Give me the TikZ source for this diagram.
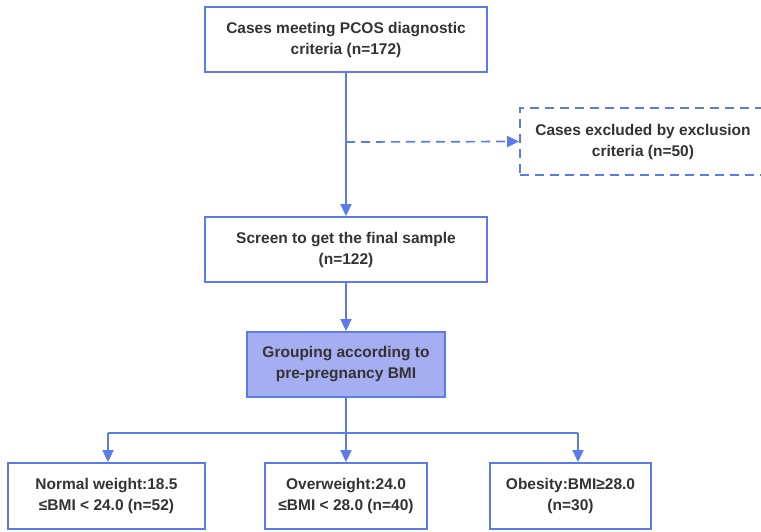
\documentclass[tikz,border=0pt]{standalone}
\usepackage{fontspec}
\setmainfont{Liberation Sans}
\usetikzlibrary{arrows.meta}
\definecolor{edge}{HTML}{5B7BEA}
\definecolor{grpfill}{HTML}{A6AEF2}
\definecolor{txt}{HTML}{333333}
\tikzset{
  box/.style={draw=edge, line width=1.8pt, fill=white, align=center, text=txt,
    font=\bfseries\fontsize{15.5}{21}\selectfont, inner sep=0pt},
  conn/.style={draw=edge, line width=1.7pt, -{Triangle[length=12pt,width=11pt]}},
  plain/.style={draw=edge, line width=1.7pt},
}
\begin{document}
\begin{tikzpicture}[x=1pt,y=-1pt]
\useasboundingbox (0,0) rectangle (761,531);
\node[box, minimum width=282pt, minimum height=65pt] (top) at (346,39.5) {Cases meeting PCOS diagnostic\\criteria (n=172)};
\node[box, dashed, dash pattern=on 9pt off 6pt, minimum width=246pt, minimum height=67pt] (excl) at (643,141.5) {Cases excluded by exclusion\\criteria (n=50)};
\node[box, minimum width=282pt, minimum height=65pt] (screen) at (346,249.5) {Screen to get the final sample\\(n=122)};
\node[box, fill=grpfill, minimum width=198pt, minimum height=65pt] (group) at (346,364.5) {Grouping according to\\pre-pregnancy BMI};
\node[box, minimum width=197pt, minimum height=66pt] (n1) at (106.5,496) {Normal weight:18.5\\≤BMI < 24.0 (n=52)};
\node[box, minimum width=162pt, minimum height=66pt] (n2) at (346,496) {Overweight:24.0\\≤BMI < 28.0 (n=40)};
\node[box, minimum width=161pt, minimum height=66pt] (n3) at (570.5,496) {Obesity:BMI≥28.0\\(n=30)};
\coordinate (tap) at (346,142);
\coordinate (split) at (346,433);
\coordinate (b1) at (108,433);
\coordinate (b3) at (578,433);
\draw[conn] (top.south) -- (screen.north);
\draw[conn, dashed, dash pattern=on 9pt off 6pt] (tap) -- (excl.west);
\draw[conn] (screen.south) -- (group.north);
\draw[plain] (group.south) -- (split);
\draw[plain] (b1) -- (b3);
\draw[conn] (b1) -- (b1 |- n1.north);
\draw[conn] (split) -- (n2.north);
\draw[conn] (b3) -- (b3 |- n3.north);
\end{tikzpicture}
\end{document}
